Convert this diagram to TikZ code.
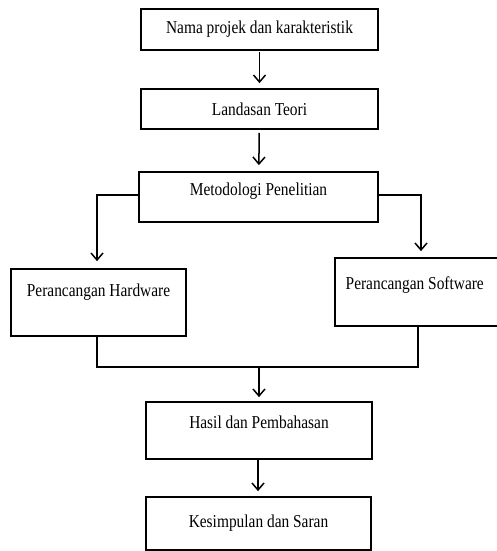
\documentclass[tikz,border=0pt]{standalone}
\usepackage{fontspec}
\setmainfont{Liberation Serif}
\usetikzlibrary{arrows.meta}
\newcommand\tallt[1]{\scalebox{1}[1.18]{#1}}
\begin{document}
\begin{tikzpicture}[x=1pt,y=-1pt,
  box/.style={draw, line width=1.7pt, inner sep=0pt},
  lbl/.style={font=\fontsize{15.4}{17}\selectfont},
  conn/.style={line width=1.5pt},
  arr/.style={conn,-{Straight Barb[length=7pt,width=12pt,line width=1.5pt]}}]
\useasboundingbox (0,0) rectangle (497,551);
\node[box, minimum width=237pt, minimum height=41pt, lbl] (b1) at (259.5,29.5) {\tallt{Nama projek dan karakteristik}};
\node[box, minimum width=237pt, minimum height=40pt, lbl] (b2) at (259.5,109) {\tallt{Landasan Teori}};
\node[box, minimum width=239pt, minimum height=50pt,
      label={[lbl,yshift=6pt]center:\tallt{Metodologi Penelitian}}] (b3) at (258.5,197) {};
\node[box, minimum width=175pt, minimum height=67pt,
      label={[lbl,yshift=10.5pt]center:\tallt{Perancangan Hardware}}] (hw) at (98.5,302.5) {};
\node[box, minimum width=162.5pt, minimum height=68pt,
      label={[lbl,yshift=7pt,xshift=-1.5pt]center:\tallt{Perancangan Software}}] (sw) at (416.25,292) {};
\node[box, minimum width=226pt, minimum height=57pt,
      label={[lbl,yshift=8.5pt]center:\tallt{Hasil dan Pembahasan}}] (hs) at (259,430.5) {};
\node[box, minimum width=225pt, minimum height=53pt, lbl] (ks) at (258.5,523.5) {\tallt{Kesimpulan dan Saran}};
\coordinate (joint) at (259,367);
\draw[arr, shorten <=1pt, shorten >=5pt] (b1) -- (b2);
\draw[arr, shorten <=3pt, shorten >=6pt] (b2) -- (b3);
\draw[arr, shorten >=7pt] ([yshift=2pt]b3.west) -| ([xshift=-1.5pt]hw.north);
\draw[arr, shorten >=6pt] ([yshift=2pt]b3.east) -| ([xshift=4.75pt]sw.north);
\draw[conn] ([xshift=-1.5pt]hw.south) |- (joint) -| ([xshift=1.75pt]sw.south);
\draw[arr, shorten >=4pt] (joint) -- (hs.north);
\draw[arr, shorten >=5pt] ([xshift=-1pt]hs.south) -- ([xshift=-0.5pt]ks.north);
\end{tikzpicture}
\end{document}
